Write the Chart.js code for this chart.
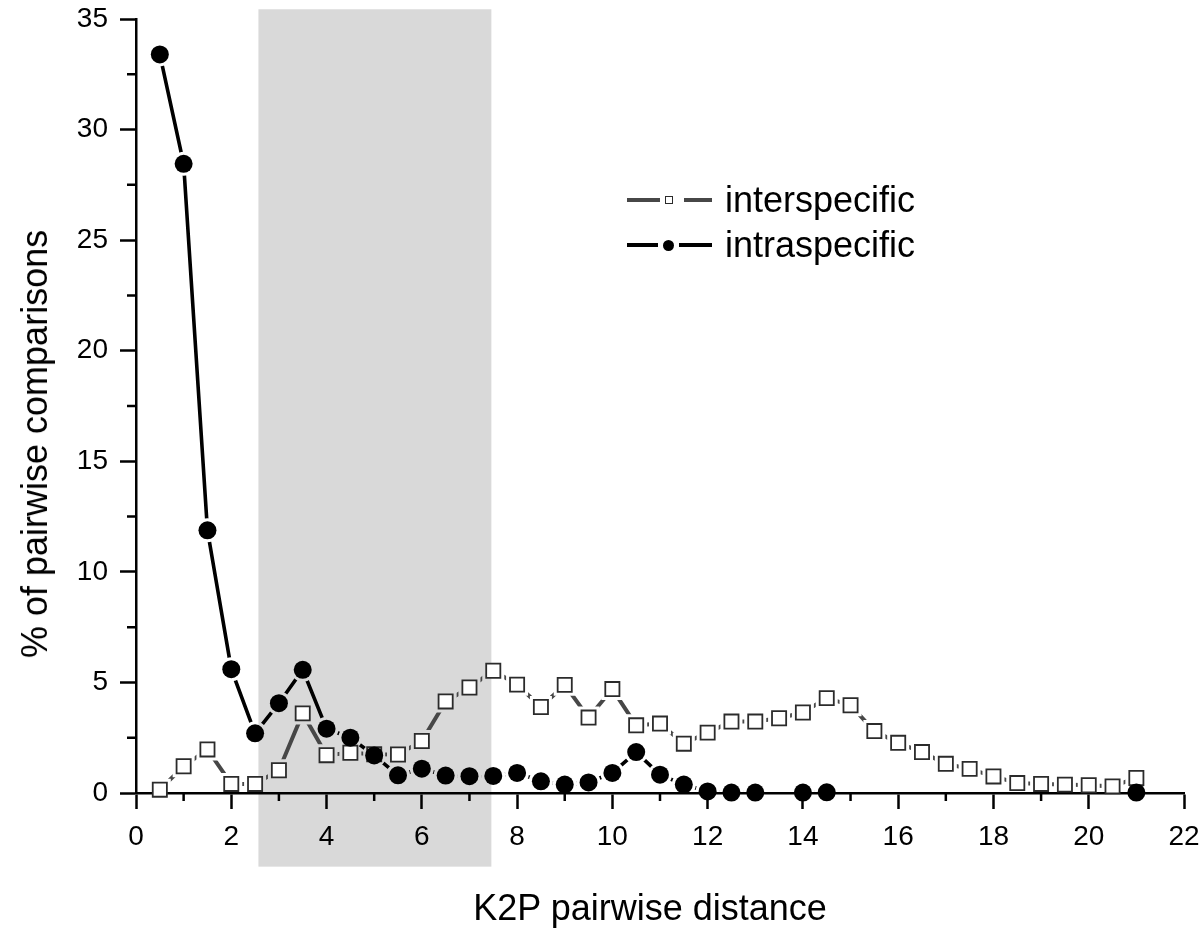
<!DOCTYPE html>
<html>
<head>
<meta charset="utf-8">
<script src="https://cdn.jsdelivr.net/npm/chart.js@4.4.1/dist/chart.umd.min.js"></script>
<style>
  html, body { margin:0; padding:0; background:#fff; }
  #wrap { position:relative; width:1200px; height:931px; overflow:hidden; }
  #c { position:absolute; left:0; top:0; }
  .lg { position:absolute; left:627px; font-family:"Liberation Sans", Arial, sans-serif; font-size:36px; color:#000;
        display:flex; align-items:center; height:44px; line-height:1; white-space:nowrap; }
  .ln { height:3.5px; display:inline-block; }
  .sq { width:6px; height:6px; border:1.5px solid #2b2b2b; background:#fff; display:inline-block; }
  .dot { width:11px; height:11px; border-radius:50%; background:#000; display:inline-block; }
  .ttl { position:absolute; font-family:"Liberation Sans", Arial, sans-serif; font-size:36px; line-height:1; color:#000; white-space:nowrap; }
  #ytitle { left:35px; top:444px; transform:translate(-50%,-50%) rotate(-90deg); }
  #xtitle { left:650px; top:890px; transform:translateX(-50%); }
</style>
</head>
<body>
<div id="wrap">
  <canvas id="c" width="1200" height="931"></canvas>
  <div id="ytitle" class="ttl"></div>
  <div id="xtitle" class="ttl"></div>
  <div class="lg" id="lg1" style="top:178px;">
    <span class="ln" style="width:33px;background:#474747;"></span>
    <span style="width:5px;display:inline-block"></span>
    <span class="sq"></span>
    <span style="width:11px;display:inline-block"></span>
    <span class="ln" style="width:28px;background:#474747;"></span>
    <span style="width:13px;display:inline-block"></span>
    <span class="lgtext"></span>
  </div>
  <div class="lg" id="lg2" style="top:223px;">
    <span class="ln" style="width:31px;background:#000;"></span>
    <span style="width:5px;display:inline-block"></span>
    <span class="dot"></span>
    <span style="width:5px;display:inline-block"></span>
    <span class="ln" style="width:33px;background:#000;"></span>
    <span style="width:13px;display:inline-block"></span>
    <span class="lgtext"></span>
  </div>
</div>
<script>
// ---- data ----
const distances = [0.5,1,1.5,2,2.5,3,3.5,4,4.5,5,5.5,6,6.5,7,7.5,8,8.5,9,9.5,10,10.5,
                   11,11.5,12,12.5,13,13.5,14,14.5,15,15.5,16,16.5,17,17.5,18,18.5,19,19.5,20,20.5,21];
const interspecific = [0.15,1.21,1.97,0.41,0.41,1.03,3.60,1.71,1.82,1.75,1.74,2.35,4.14,4.77,5.53,
                       4.90,3.89,4.89,3.41,4.70,3.06,3.14,2.23,2.73,3.23,3.23,3.38,3.64,4.29,3.97,
                       2.80,2.27,1.85,1.32,1.09,0.75,0.45,0.41,0.38,0.35,0.30,0.68];
const intraspecific = [33.4,28.45,11.88,5.60,2.70,4.06,5.57,2.91,2.50,1.70,0.80,1.10,0.79,0.76,0.77,
                       0.91,0.53,0.38,0.48,0.91,1.85,0.83,0.38,0.07,0.02,0.02,null,0.02,0.03,null,
                       null,null,null,null,null,null,null,null,null,null,null,0.02];
const seriesNames = ['interspecific','intraspecific'];
const xRange = [0, 22];
const yRange = [0, 35];
const xMajorStep = 2;
const yMajorStep = 5;
const xMinorTicks = [1,3,5,7,9,11,13,15,17,19,21];
const yMinorTicks = [2.5,7.5,12.5,17.5,22.5,27.5,32.5];
const shadeX = [2.57, 7.46];
const shadeY = [-3.33, 35.44];
const xTitle = 'K2P pairwise distance';
const yTitle = '% of pairwise comparisons';

document.getElementById('ytitle').textContent = yTitle;
document.getElementById('xtitle').textContent = xTitle;
document.querySelectorAll('.lgtext').forEach((el, i) => { el.textContent = seriesNames[i]; });

const toPts = arr => distances.map((d, i) => ({x: d, y: arr[i]}));

const FONT = '"Liberation Sans", Arial, Helvetica, sans-serif';
Chart.defaults.font.family = FONT;
Chart.defaults.color = '#000';

// shaded band behind everything
const shadePlugin = {
  id: 'shade',
  beforeDraw(chart) {
    const {ctx, scales:{x, y}} = chart;
    const x0 = x.getPixelForValue(shadeX[0]), x1 = x.getPixelForValue(shadeX[1]);
    const y0 = y.getPixelForValue(shadeY[1]), y1 = y.getPixelForValue(shadeY[0]);
    ctx.save();
    ctx.fillStyle = '#d9d9d9';
    ctx.fillRect(x0, y0, x1 - x0, y1 - y0);
    ctx.restore();
  }
};

// minor tick marks
const minorTickPlugin = {
  id: 'minorTicks',
  beforeDatasetsDraw(chart) {
    const {ctx, chartArea, scales:{x, y}} = chart;
    ctx.save();
    ctx.strokeStyle = '#000';
    ctx.lineWidth = 2.5;
    ctx.beginPath();
    xMinorTicks.forEach(v => {
      const px = x.getPixelForValue(v);
      ctx.moveTo(px, chartArea.bottom);
      ctx.lineTo(px, chartArea.bottom + 8);
    });
    yMinorTicks.forEach(v => {
      const py = y.getPixelForValue(v);
      ctx.moveTo(chartArea.left - 9, py);
      ctx.lineTo(chartArea.left, py);
    });
    ctx.stroke();
    ctx.restore();
  }
};

// "gap to symbol": mask the connecting line around each of its own points
const gapPlugin = {
  id: 'gapToSymbol',
  beforeDatasetDraw(chart, args) {
    const ds = chart.data.datasets[args.index];
    if (!ds.gap) return;
    const ctx = chart.ctx;
    ctx.save();
    ctx.beginPath();
    ctx.rect(0, 0, chart.width, chart.height);
    args.meta.data.forEach(pt => {
      if (pt.skip) return;
      const {x, y} = pt;
      if (ds.gap.shape === 'rect') {
        const h = ds.gap.size;
        ctx.rect(x - h, y - h, 2 * h, 2 * h);
      } else {
        ctx.moveTo(x + ds.gap.size, y);
        ctx.arc(x, y, ds.gap.size, 0, Math.PI * 2);
      }
    });
    ctx.clip('evenodd');
  },
  afterDatasetDraw(chart, args) {
    const ds = chart.data.datasets[args.index];
    if (!ds.gap) return;
    chart.ctx.restore();
  }
};

const noPad = s => { s.paddingTop = 0; s.paddingBottom = 0; s.paddingLeft = 0; s.paddingRight = 0; };

new Chart(document.getElementById('c'), {
  type: 'line',
  data: {
    datasets: [
      { label: seriesNames[0] + ' line', data: toPts(interspecific), borderColor: '#474747', borderWidth: 4,
        pointRadius: 0, tension: 0, spanGaps: false, order: 4, gap: {shape: 'rect', size: 11} },
      { label: seriesNames[1] + ' line', data: toPts(intraspecific), borderColor: '#000', borderWidth: 3.6,
        pointRadius: 0, tension: 0, spanGaps: false, order: 3, gap: {shape: 'circle', size: 12} },
      { label: seriesNames[0], data: toPts(interspecific), showLine: false, pointStyle: 'rect',
        pointRadius: 10, pointBackgroundColor: '#fff', pointBorderColor: '#2b2b2b', pointBorderWidth: 1.8,
        order: 2, clip: false },
      { label: seriesNames[1], data: toPts(intraspecific), showLine: false, pointStyle: 'circle',
        pointRadius: 9, pointBackgroundColor: '#000', pointBorderColor: '#000', pointBorderWidth: 0,
        order: 1, clip: false }
    ]
  },
  options: {
    responsive: false,
    animation: false,
    devicePixelRatio: 1,
    layout: { padding: { top: 19, right: 16, left: 0, bottom: 0 } },
    plugins: { legend: { display: false }, tooltip: { enabled: false } },
    scales: {
      x: {
        type: 'linear', min: xRange[0], max: xRange[1],
        ticks: { stepSize: xMajorStep, font: { size: 28 }, color: '#000', padding: 11, maxRotation: 0 },
        grid: { drawOnChartArea: false, drawTicks: true, tickLength: 16, tickWidth: 2.5, tickColor: '#000' },
        border: { display: true, color: '#000', width: 2.5 },
        title: { display: false },
        afterFit(s) { s.height = 138; noPad(s); }
      },
      y: {
        type: 'linear', min: yRange[0], max: yRange[1],
        ticks: { stepSize: yMajorStep, font: { size: 28 }, color: '#000', padding: 12 },
        grid: { drawOnChartArea: false, drawTicks: true, tickLength: 16, tickWidth: 2.5, tickColor: '#000' },
        border: { display: true, color: '#000', width: 2.5 },
        title: { display: false },
        afterFit(s) { s.width = 136; noPad(s); }
      }
    }
  },
  plugins: [shadePlugin, minorTickPlugin, gapPlugin]
});
</script>
</body>
</html>
